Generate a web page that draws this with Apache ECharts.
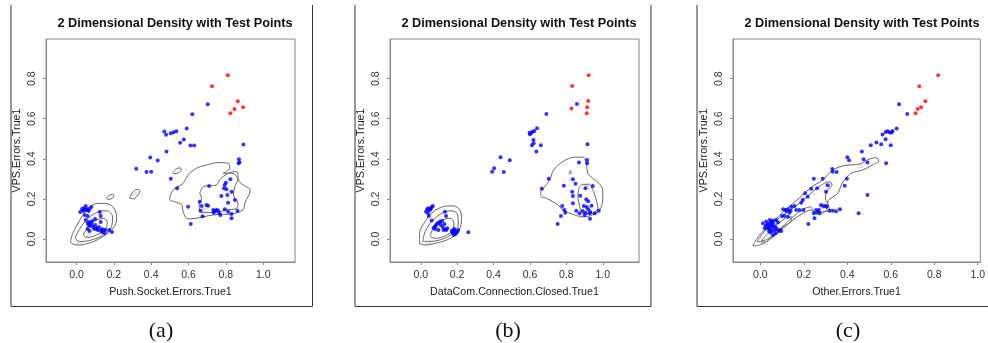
<!DOCTYPE html>
<html><head><meta charset="utf-8">
<script src="https://cdn.jsdelivr.net/npm/echarts@6/dist/echarts.min.js"></script>
<style>html,body{margin:0;padding:0;background:#fff;}#c{width:988px;height:343px;}</style>
</head><body><div id="c"></div>
<script>
// ---------- data ----------
const titleText = '2 Dimensional Density with Test Points';
const xNames = ['Push.Socket.Errors.True1', 'DataCom.Connection.Closed.True1', 'Other.Errors.True1'];
const yName = 'VPS.Errors.True1';
const captions = ['(a)', '(b)', '(c)'];
const xTicks = [0, 0.2, 0.4, 0.6, 0.8, 1.0];
const yTicks = [0, 0.2, 0.4, 0.6, 0.8];

// panel (a)
const blueA = [
 [0.703,0.672],[0.62,0.622],[0.59,0.551],[0.47,0.536],[0.48,0.52],[0.505,0.528],[0.52,0.532],[0.535,0.537],
 [0.575,0.496],[0.555,0.48],[0.61,0.467],[0.63,0.467],[0.482,0.436],[0.395,0.407],[0.435,0.391],[0.32,0.35],
 [0.375,0.334],[0.4,0.335],[0.894,0.472],[0.87,0.398],[0.873,0.383],[0.868,0.378],
 [0.71,0.264],[0.794,0.269],[0.8,0.281],[0.824,0.298],[0.79,0.253],[0.803,0.248],[0.83,0.236],[0.776,0.215],
 [0.808,0.22],[0.812,0.181],[0.848,0.195],[0.66,0.186],[0.67,0.165],[0.696,0.17],[0.705,0.166],[0.598,0.161],
 [0.732,0.145],[0.742,0.14],[0.75,0.145],[0.758,0.142],[0.735,0.131],[0.764,0.128],[0.771,0.12],[0.664,0.141],
 [0.675,0.113],[0.794,0.148],[0.812,0.136],[0.83,0.125],[0.83,0.103],[0.862,0.141],[0.612,0.075],[0.539,0.253],[0.505,0.3],
 [0.02,0.135],[0.03,0.15],[0.035,0.14],[0.04,0.155],[0.045,0.145],[0.05,0.165],[0.055,0.15],[0.06,0.145],
 [0.065,0.14],[0.07,0.15],[0.08,0.16],[0.045,0.12],[0.06,0.115],[0.05,0.095],[0.06,0.08],[0.065,0.07],
 [0.07,0.085],[0.075,0.065],[0.08,0.075],[0.085,0.09],[0.09,0.06],[0.095,0.05],[0.1,0.07],[0.105,0.055],
 [0.11,0.05],[0.115,0.045],[0.12,0.06],[0.125,0.135],[0.13,0.115],[0.13,0.04],[0.135,0.05],[0.14,0.035],
 [0.145,0.045],[0.15,0.03],[0.155,0.045],[0.13,0.085],[0.06,0.05],[0.07,0.04],[0.19,0.035],[0.175,0.045],[0.1,0.1]
];
const redA = [[0.81,0.817],[0.726,0.762],[0.864,0.687],[0.846,0.649],[0.824,0.627],[0.892,0.657]];
const contoursA = [
 [[-0.031,-0.008],[-0.02,0.028],[0.019,0.095],[0.063,0.153],[0.117,0.178],[0.17,0.175],[0.206,0.145],[0.215,0.095],[0.188,0.045],[0.126,0.003],[0.063,-0.022],[0.01,-0.03],[-0.026,-0.022],[-0.031,-0.008]],
 [[-0.008,0.003],[0.019,0.053],[0.063,0.103],[0.117,0.136],[0.161,0.141],[0.193,0.111],[0.188,0.062],[0.143,0.02],[0.081,-0.005],[0.019,-0.013],[-0.008,0.003]],
 [[0.037,0.02],[0.063,0.062],[0.108,0.095],[0.147,0.103],[0.165,0.081],[0.152,0.045],[0.108,0.02],[0.058,0.007],[0.037,0.02]],
 [[0.16,0.205],[0.175,0.218],[0.195,0.222],[0.2,0.212],[0.185,0.2],[0.165,0.198],[0.16,0.205]],
 [[0.285,0.205],[0.3,0.232],[0.325,0.248],[0.34,0.24],[0.33,0.22],[0.305,0.2],[0.285,0.205]],
 [[0.515,0.33],[0.53,0.347],[0.555,0.355],[0.562,0.345],[0.545,0.33],[0.522,0.325],[0.515,0.33]],
 [[0.5,0.211],[0.518,0.245],[0.544,0.261],[0.571,0.278],[0.598,0.319],[0.643,0.353],[0.696,0.369],[0.758,0.381],[0.812,0.378],[0.821,0.353],[0.785,0.328],[0.83,0.328],[0.86,0.31],[0.873,0.285],[0.9,0.265],[0.931,0.245],[0.901,0.178],[0.892,0.145],[0.83,0.125],[0.732,0.12],[0.607,0.1],[0.589,0.103],[0.571,0.136],[0.563,0.17],[0.527,0.186],[0.5,0.195],[0.5,0.211]],
 [[0.66,0.228],[0.68,0.261],[0.75,0.27],[0.767,0.295],[0.812,0.328],[0.857,0.336],[0.865,0.303],[0.848,0.261],[0.84,0.22],[0.865,0.178],[0.857,0.153],[0.8,0.145],[0.767,0.136],[0.696,0.131],[0.66,0.14],[0.657,0.175],[0.67,0.2],[0.66,0.228]]
];
const labelsA = [[0.31,0.222,'25'],[0.07,0.02,'25'],[0.02,-0.028,'50'],[0.69,0.141,'50'],[0.78,0.128,'25']];

// panel (b)
const blueB = [
 [0.858,0.674],[0.69,0.624],[0.639,0.552],[0.624,0.539],[0.615,0.535],[0.598,0.53],[0.6,0.522],[0.605,0.527],
 [0.619,0.494],[0.62,0.478],[0.611,0.468],[0.66,0.468],[0.635,0.436],[0.438,0.408],[0.489,0.393],[0.403,0.353],
 [0.392,0.336],[0.456,0.334],[0.916,0.473],[0.914,0.394],[0.914,0.378],[0.869,0.381],[0.703,0.3],[0.665,0.251],
 [0.752,0.075],[0.77,0.115],
 [0.836,0.298],[0.85,0.276],[0.786,0.266],[0.832,0.236],[0.836,0.215],[0.876,0.216],[0.905,0.253],[0.945,0.264],
 [0.909,0.198],[0.92,0.188],[0.836,0.178],[0.777,0.165],[0.789,0.145],[0.794,0.131],[0.854,0.141],[0.872,0.128],
 [0.896,0.165],[0.905,0.131],[0.927,0.128],[0.92,0.148],[0.938,0.166],[0.956,0.128],[0.978,0.141],[0.93,0.101],
 [0.89,0.14],[0.912,0.16],[0.932,0.135],[0.9,0.12],
 [0.029,0.136],[0.035,0.148],[0.042,0.153],[0.05,0.145],[0.055,0.15],[0.066,0.165],[0.06,0.158],[0.044,0.115],
 [0.04,0.13],[0.133,0.136],[0.139,0.115],[0.06,0.092],[0.078,0.062],[0.091,0.078],[0.106,0.087],[0.117,0.09],
 [0.097,0.045],[0.13,0.075],[0.133,0.048],[0.146,0.053],[0.179,0.045],[0.188,0.037],[0.193,0.028],[0.175,0.032],
 [0.206,0.045],[0.261,0.033],[0.182,0.02],[0.085,0.07],[0.1,0.08],[0.12,0.06],[0.125,0.045],[0.14,0.045],
 [0.17,0.04],[0.185,0.05],[0.19,0.025],[0.2,0.035],[0.178,0.028],[0.08,0.05],[0.11,0.07],[0.07,0.055]
];
const redB = [[0.832,0.764],[0.922,0.817],[0.92,0.689],[0.914,0.657],[0.828,0.651],[0.912,0.627]];
const contoursB = [
 [[-0.007,-0.022],[-0.007,0.028],[0.024,0.087],[0.069,0.136],[0.124,0.161],[0.179,0.165],[0.215,0.145],[0.224,0.095],[0.206,0.037],[0.151,-0.002],[0.078,-0.022],[0.024,-0.03],[-0.007,-0.022]],
 [[0.011,-0.013],[0.024,0.037],[0.06,0.087],[0.115,0.128],[0.17,0.141],[0.203,0.12],[0.206,0.07],[0.175,0.028],[0.115,-0.002],[0.04,-0.013],[0.011,-0.013]],
 [[0.051,0.012],[0.069,0.053],[0.115,0.092],[0.161,0.103],[0.182,0.078],[0.17,0.037],[0.124,0.012],[0.078,0.003],[0.051,0.012]],
 [[0.659,0.236],[0.708,0.295],[0.73,0.344],[0.781,0.386],[0.845,0.408],[0.891,0.408],[0.909,0.378],[0.918,0.328],[0.945,0.303],[0.978,0.278],[1.0,0.245],[1.0,0.195],[0.982,0.145],[0.945,0.12],[0.891,0.111],[0.845,0.12],[0.781,0.145],[0.754,0.17],[0.726,0.186],[0.69,0.203],[0.662,0.211],[0.659,0.236]],
 [[0.869,0.253],[0.891,0.273],[0.923,0.273],[0.949,0.236],[0.964,0.195],[0.973,0.153],[0.945,0.128],[0.909,0.125],[0.881,0.136],[0.872,0.17],[0.863,0.211],[0.869,0.253]],
 [[0.815,0.328],[0.818,0.338],[0.826,0.34],[0.827,0.33],[0.82,0.325],[0.815,0.328]]
];
const labelsB = [[0.042,-0.018,'50'],[0.89,0.111,'50'],[0.909,0.258,'25']];

// panel (c)
const blueC = [
 [0.638,0.672],[0.676,0.624],[0.627,0.551],[0.585,0.537],[0.595,0.531],[0.604,0.531],[0.577,0.534],[0.562,0.521],
 [0.608,0.539],[0.576,0.498],[0.534,0.481],[0.556,0.473],[0.508,0.468],[0.6,0.468],[0.467,0.436],[0.475,0.398],
 [0.4,0.408],[0.408,0.393],[0.493,0.381],[0.579,0.378],[0.331,0.349],[0.333,0.336],[0.351,0.334],[0.398,0.301],
 [0.388,0.265],[0.452,0.128],[0.493,0.22],[0.366,0.148],[0.348,0.138],[0.333,0.141],[0.318,0.141],[0.31,0.268],
 [0.302,0.236],[0.287,0.3],[0.246,0.3],[0.234,0.25],[0.261,0.253],[0.299,0.165],[0.256,0.145],[0.246,0.128],
 [0.249,0.103],[0.221,0.075],[0.218,0.211],[0.206,0.228],[0.195,0.195],[0.188,0.181],[0.165,0.145],[0.157,0.165],
 [0.142,0.161],[0.127,0.148],[0.134,0.131],[0.116,0.145],[0.111,0.115],[0.1,0.115],[0.127,0.111],[0.139,0.141],
 [0.18,0.145],[0.198,0.145],[0.269,0.145],[0.279,0.17],[0.29,0.165],[0.305,0.161],[0.261,0.135],[0.272,0.131],
 [0.12,0.14],[0.105,0.148],
 [0.012,0.078],[0.027,0.087],[0.043,0.095],[0.058,0.092],[0.073,0.095],[0.081,0.082],[0.089,0.045],[0.096,0.04],
 [0.07,0.028],[0.058,0.02],[0.046,0.032],[0.04,0.048],[0.031,0.057],[0.024,0.065],[0.05,0.07],[0.061,0.062],
 [0.066,0.045],[0.055,0.04],[0.043,0.062],[0.035,0.075],[0.02,0.053],[0.052,0.087],[0.045,0.08],[0.06,0.075],
 [0.07,0.06],[0.075,0.05],[0.085,0.04],[0.05,0.055],[0.04,0.04],[0.03,0.07]
];
const redC = [[0.818,0.817],[0.731,0.762],[0.759,0.687],[0.74,0.657],[0.724,0.649],[0.714,0.627]];
const contoursC = [
 [[-0.034,-0.03],[-0.003,0.02],[0.058,0.087],[0.119,0.148],[0.18,0.206],[0.234,0.258],[0.287,0.295],[0.333,0.344],[0.386,0.366],[0.455,0.374],[0.501,0.398],[0.534,0.406],[0.544,0.389],[0.516,0.369],[0.47,0.344],[0.417,0.328],[0.394,0.303],[0.376,0.278],[0.356,0.228],[0.325,0.203],[0.31,0.186],[0.318,0.145],[0.287,0.136],[0.249,0.128],[0.234,0.145],[0.195,0.128],[0.15,0.095],[0.096,0.045],[0.05,0.003],[-0.003,-0.03],[-0.034,-0.035],[-0.034,-0.03]],
 [[-0.015,-0.013],[0.012,0.028],[0.066,0.087],[0.127,0.136],[0.188,0.186],[0.241,0.236],[0.287,0.273],[0.318,0.286],[0.33,0.27],[0.305,0.24],[0.3,0.2],[0.31,0.17],[0.3,0.14],[0.27,0.12],[0.25,0.13],[0.23,0.16],[0.2,0.15],[0.15,0.11],[0.1,0.06],[0.06,0.02],[0.02,-0.015],[-0.015,-0.013]],
 [[0.005,-0.008],[0.035,0.028],[0.073,0.07],[0.116,0.103],[0.142,0.111],[0.142,0.095],[0.104,0.058],[0.066,0.025],[0.024,-0.005],[0.005,-0.008]]
];
const labelsC = [[0.455,0.36,'75'],[0.28,0.158,'50'],[0.31,0.278,'25'],[0.02,-0.02,'50']];

// ---------- layout ----------
const panels = [
 {blue: blueA, red: redA, contours: contoursA, labels: labelsA, xMin: -0.163, xMax: 1.17, grid: {left: 46, top: 39, width: 249, height: 223}, tx: 170, frame: [[11,5],[11,306.5],[312.5,306.5],[312.5,5]], cap: 161},
 {blue: blueB, red: redB, contours: contoursB, labels: labelsB, xMin: -0.169, xMax: 1.199, grid: {left: 390, top: 39, width: 249, height: 223}, tx: 514, frame: [[355,5],[355,306.5],[651,306.5],[651,5]], cap: 508},
 {blue: blueC, red: redC, contours: contoursC, labels: labelsC, xMin: -0.126, xMax: 1.012, grid: {left: 733, top: 39, width: 249, height: 223}, tx: 857, frame: [[697,5],[697,306.5],[988,306.5]], cap: 848}
];
const yMin = -0.115, yMax = 0.998;
const FONT = '"Liberation Sans", Arial, sans-serif';

const grid = [], xAxis = [], yAxis = [], series = [], title = [], graphic = [];
panels.forEach((p, i) => {
  grid.push(Object.assign({show: true, borderColor: '#8a8a8a', borderWidth: 1, backgroundColor: 'transparent'}, p.grid));
  title.push({text: titleText, left: p.tx, top: 12, textAlign: 'center',
    textStyle: {fontFamily: FONT, fontSize: 12.7, fontWeight: 'bold', color: '#111'}});
  xAxis.push({gridIndex: i, type: 'value', min: p.xMin, max: p.xMax,
    name: xNames[i], nameLocation: 'middle', nameGap: 25,
    nameTextStyle: {fontFamily: FONT, fontSize: 10.7, color: '#222'},
    axisLine: {show: true, onZero: false, lineStyle: {color: '#8a8a8a'}},
    axisTick: {show: true, length: 3, customValues: xTicks, lineStyle: {color: '#8a8a8a'}},
    axisLabel: {customValues: xTicks, formatter: v => v.toFixed(1), margin: 8,
      fontFamily: FONT, fontSize: 10.5, color: '#333'},
    splitLine: {show: false}});
  yAxis.push({gridIndex: i, type: 'value', min: yMin, max: yMax,
    name: yName, nameLocation: 'middle', nameGap: 23, nameRotate: 90,
    nameTextStyle: {fontFamily: FONT, fontSize: 10.7, color: '#222'},
    axisLine: {show: true, onZero: false, lineStyle: {color: '#8a8a8a'}},
    axisTick: {show: true, length: 3, customValues: yTicks, lineStyle: {color: '#8a8a8a'}},
    axisLabel: {customValues: yTicks, formatter: v => v.toFixed(1), rotate: 90, margin: 8,
      fontFamily: FONT, fontSize: 10.5, color: '#333'},
    splitLine: {show: false}});
  p.contours.forEach(c => {
    series.push({type: 'line', xAxisIndex: i, yAxisIndex: i, data: c, smooth: 0.35,
      symbol: 'none', lineStyle: {color: '#666', width: 1}, z: 2, silent: true});
  });
  series.push({type: 'scatter', xAxisIndex: i, yAxisIndex: i, data: p.labels, symbolSize: 1,
    itemStyle: {color: 'rgba(0,0,0,0)'}, z: 3,
    label: {show: true, position: 'inside', formatter: q => q.value[2],
      fontFamily: FONT, fontSize: 6, color: '#b0b0b0'}});
  series.push({type: 'scatter', xAxisIndex: i, yAxisIndex: i, data: p.blue, symbol: 'circle',
    symbolSize: 4, itemStyle: {color: '#0000ff'}, z: 5});
  series.push({type: 'scatter', xAxisIndex: i, yAxisIndex: i, data: p.red, symbol: 'circle',
    symbolSize: 4, itemStyle: {color: '#ff0000'}, z: 6});
  graphic.push({type: 'polyline', shape: {points: p.frame}, style: {stroke: '#333', lineWidth: 1, fill: null}, silent: true});
  graphic.push({type: 'text', x: p.cap, y: 331, style: {text: captions[i], fill: '#111',
    font: '22px "Liberation Serif", "Times New Roman", serif', textAlign: 'center', textVerticalAlign: 'middle'}});
});

const chart = echarts.init(document.getElementById('c'), null, {renderer: 'canvas'});
chart.setOption({animation: false, backgroundColor: '#fff', title, grid, xAxis, yAxis, series, graphic});
</script></body></html>
